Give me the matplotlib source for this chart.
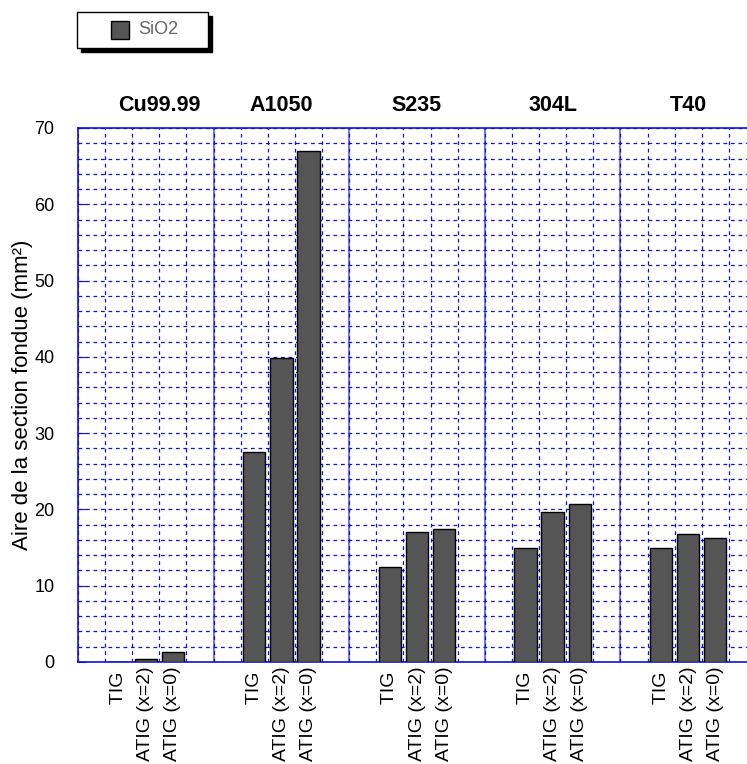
import matplotlib.pyplot as plt
import numpy as np
from matplotlib.patches import Rectangle

plt.rcParams['font.family'] = ['Liberation Sans', 'DejaVu Sans']

# Data
materials = ['Cu99.99', 'A1050', 'S235', '304L', 'T40']
procedes = ['TIG ', 'ATIG (x=2)', 'ATIG (x=0)']
aire_tig = [0.0, 27.5, 12.5, 15.0, 14.9]
aire_atig_x2 = [0.35, 39.8, 17.1, 19.7, 16.8]
aire_atig_x0 = [1.3, 67.0, 17.5, 20.7, 16.3]
legend_label = 'SiO2'

blue = '#1010e0'
W, H = 747, 764

fig = plt.figure(figsize=(W / 100, H / 100), dpi=100)
ax = fig.add_axes([78 / W, 1 - 662 / H, 678 / W, 534 / H])

slots = 5  # slots per group
series = [aire_tig, aire_atig_x2, aire_atig_x0]
tick_pos = []
tick_lab = []
for g in range(len(materials)):
    shown = []
    for k, vals in enumerate(series):
        x = g * slots + 1.5 + k
        ax.bar(x, vals[g], width=0.82, color='#555555', edgecolor='black',
               linewidth=1.0, zorder=3)
        tick_pos.append(x)
        tick_lab.append(procedes[k])
        if vals[g] > 0:
            shown.append(x)
    # title centred over the bars that are drawn
    ax.text(np.mean(shown), 73.0, materials[g], ha='center', va='center',
            fontsize=15.5, fontweight='bold')

ax.set_xlim(0, len(materials) * slots)
ax.set_ylim(0, 70)

# grid
ax.set_yticks(np.arange(0, 71, 10))
ax.set_yticks(np.arange(0, 71, 2), minor=True)
ax.set_xticks(np.arange(0, 26, 1), minor=True)
ax.grid(which='minor', color=blue, linestyle=(0, (3, 3)), linewidth=0.9, zorder=0)
ax.grid(which='major', axis='y', color=blue, linestyle=(0, (3, 3)), linewidth=0.9, zorder=0)
for g in range(1, len(materials)):
    ax.axvline(g * slots, color='#7878e8', linewidth=1.5, zorder=1)

ax.set_xticks(tick_pos)
ax.set_xticklabels(tick_lab, rotation=90, va='top', ha='center', fontsize=14)
ax.tick_params(axis='x', which='both', length=0, pad=3)
ax.tick_params(axis='y', which='major', direction='in', length=6, color=blue,
               labelsize=13, pad=17)
ax.tick_params(axis='y', which='minor', length=0)

for s in ax.spines.values():
    s.set_color(blue)
    s.set_linewidth(1.2)

ax.set_ylabel('Aire de la section fondue (mm²)', fontsize=16, labelpad=1)


# legend box drawn in figure pixels (from top-left)
def fpx(x, y):
    return x / W, 1 - y / H


bx, by, bw, bh = 77, 12, 131, 36
x0, y0 = fpx(bx + 4, by + bh + 4)
fig.patches.append(Rectangle((x0, y0), bw / W, bh / H, transform=fig.transFigure,
                             facecolor='black', edgecolor='black', zorder=1))
x0, y0 = fpx(bx, by + bh)
fig.patches.append(Rectangle((x0, y0), bw / W, bh / H, transform=fig.transFigure,
                             facecolor='white', edgecolor='black', linewidth=1.0, zorder=2))
x0, y0 = fpx(111, 39)
fig.patches.append(Rectangle((x0, y0), 18 / W, 18 / H, transform=fig.transFigure,
                             facecolor='#555555', edgecolor='black', linewidth=1.0, zorder=3))
tx, ty = fpx(138, 30)
fig.text(tx, ty, legend_label, ha='left', va='center', fontsize=13, color='#666666', zorder=4)

fig.savefig('out.png', dpi=100)
